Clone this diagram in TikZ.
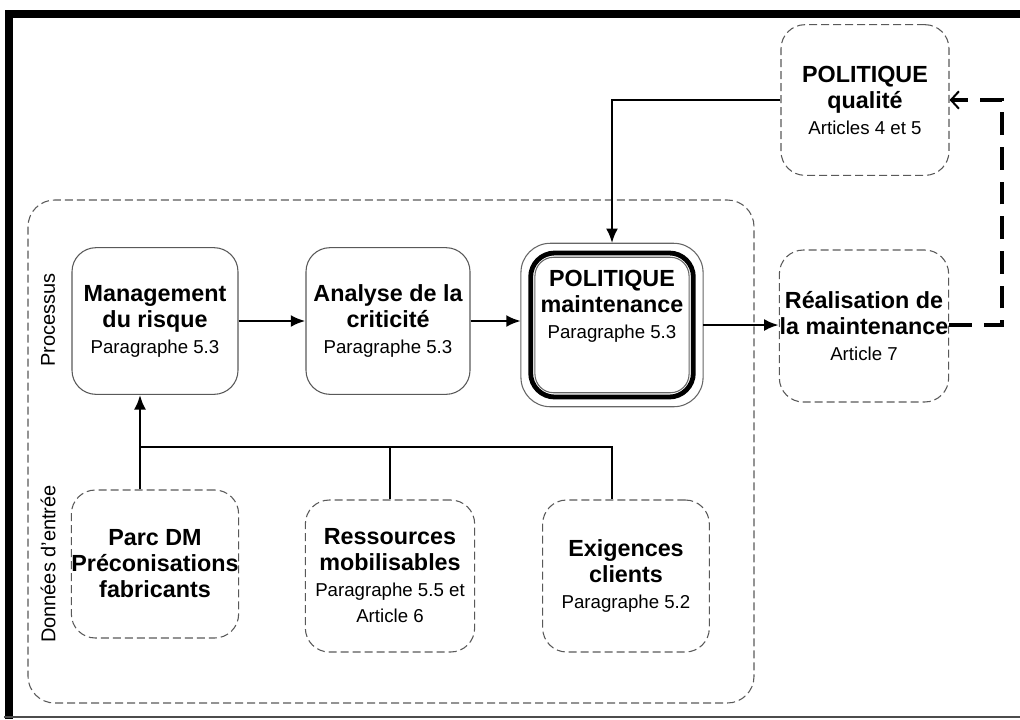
\documentclass[tikz,border=0pt]{standalone}
\usepackage{fontspec}
\setmainfont{Liberation Sans}
\usetikzlibrary{arrows.meta}
\newcommand\subline[1]{{\mdseries\fontsize{14}{17}\selectfont #1}}

\begin{document}
\begin{tikzpicture}[x=0.75pt,y=-0.75pt,
  solidbox/.style={draw=black!65,line width=0.8pt,rounded corners=18pt,align=center,inner sep=0pt,
    minimum width=124.5pt,minimum height=110pt,font=\bfseries\fontsize{17.5}{19.5}\selectfont},
  dashbox/.style={solidbox,dash pattern=on 6pt off 3pt},
  region/.style={draw=black!65,line width=0.8pt,rounded corners=20pt,dash pattern=on 6pt off 3pt},
  wire/.style={line width=2pt},
  link/.style={wire,-{Latex[length=11pt,width=9pt]}},
  fbline/.style={line width=2.8pt,dash pattern=on 17pt off 9pt,-{Straight Barb[length=6pt,width=13pt,line width=1.5pt]}},
  sidelabel/.style={rotate=90,font=\fontsize{15}{17}\selectfont}]
\useasboundingbox (0,0) rectangle (1020,719);
\draw[line width=6pt] (8.5,719) -- (8.5,14) -- (1020,14);
\draw[black!70,line width=1pt] (4,717) -- (1020,717);
\draw[region] (28,200) rectangle (754,703);
\node[sidelabel] (proc) at (48,320) {Processus};
\node[sidelabel] (input) at (48,564) {Données d'entrée};

\node[solidbox] (risk) at (155,321) {Management\\du risque\\\subline{Paragraphe 5.3}};
\node[solidbox,minimum width=123pt] (crit) at (388,321) {Analyse de la\\criticité\\\subline{Paragraphe 5.3}};
\node[solidbox,draw=black,line width=3.6pt,minimum width=122pt,minimum height=108pt] (pm) at (612,325)
  {POLITIQUE\\maintenance\\\subline{Paragraphe 5.3}\\[12pt]};
\draw[black!60,line width=0.8pt,rounded corners=22pt] ([shift={(-5.5pt,-5.5pt)}]pm.south west) rectangle ([shift={(5.5pt,5.5pt)}]pm.north east);
\draw[black!60,line width=0.8pt,rounded corners=14pt] ([shift={(5pt,5pt)}]pm.south west) rectangle ([shift={(-5pt,-5pt)}]pm.north east);
\node[dashbox,minimum width=127pt,minimum height=114pt] (reali) at (864,326) {Réalisation de\\la maintenance\\\subline{Article 7}};
\node[dashbox,minimum width=126pt,minimum height=113pt] (polqual) at (865,100) {POLITIQUE\\qualité\\\subline{Articles 4 et 5}};
\node[dashbox,minimum height=111pt] (parc) at (155,564) {Parc DM\\Préconisations\\fabricants};
\node[dashbox,minimum width=127pt,minimum height=114pt] (ress) at (390,576) {Ressources\\mobilisables\\\subline{Paragraphe 5.5 et}\\\subline{Article 6}};
\node[dashbox,minimum width=125pt,minimum height=114pt] (exig) at (626,576) {Exigences\\clients\\\subline{Paragraphe 5.2}};

\coordinate (bus) at (140,447);
\coordinate (fb) at (1002,0);
\draw[link] (risk) -- (crit);
\draw[link] (crit.east) -- ([xshift=-5.5pt]crit.east -| pm.west);
\draw[link] ([xshift=5.5pt]pm.east) -- (pm.east -| reali.west);
\draw[link] (polqual.west) -- (polqual.west -| pm.north) -- ([yshift=5.5pt]pm.north);
\draw[fbline] (reali.east |- pm.east) -- (pm.east -| fb) -- (polqual.east -| fb) -- (polqual.east);
\draw[link] (parc.north -| bus) -- (risk.south -| bus);
\draw[wire] (bus) -- (bus -| pm) -- (exig.north -| pm);
\draw[wire] (ress.north) -- (ress.north |- bus);
\end{tikzpicture}
\end{document}
